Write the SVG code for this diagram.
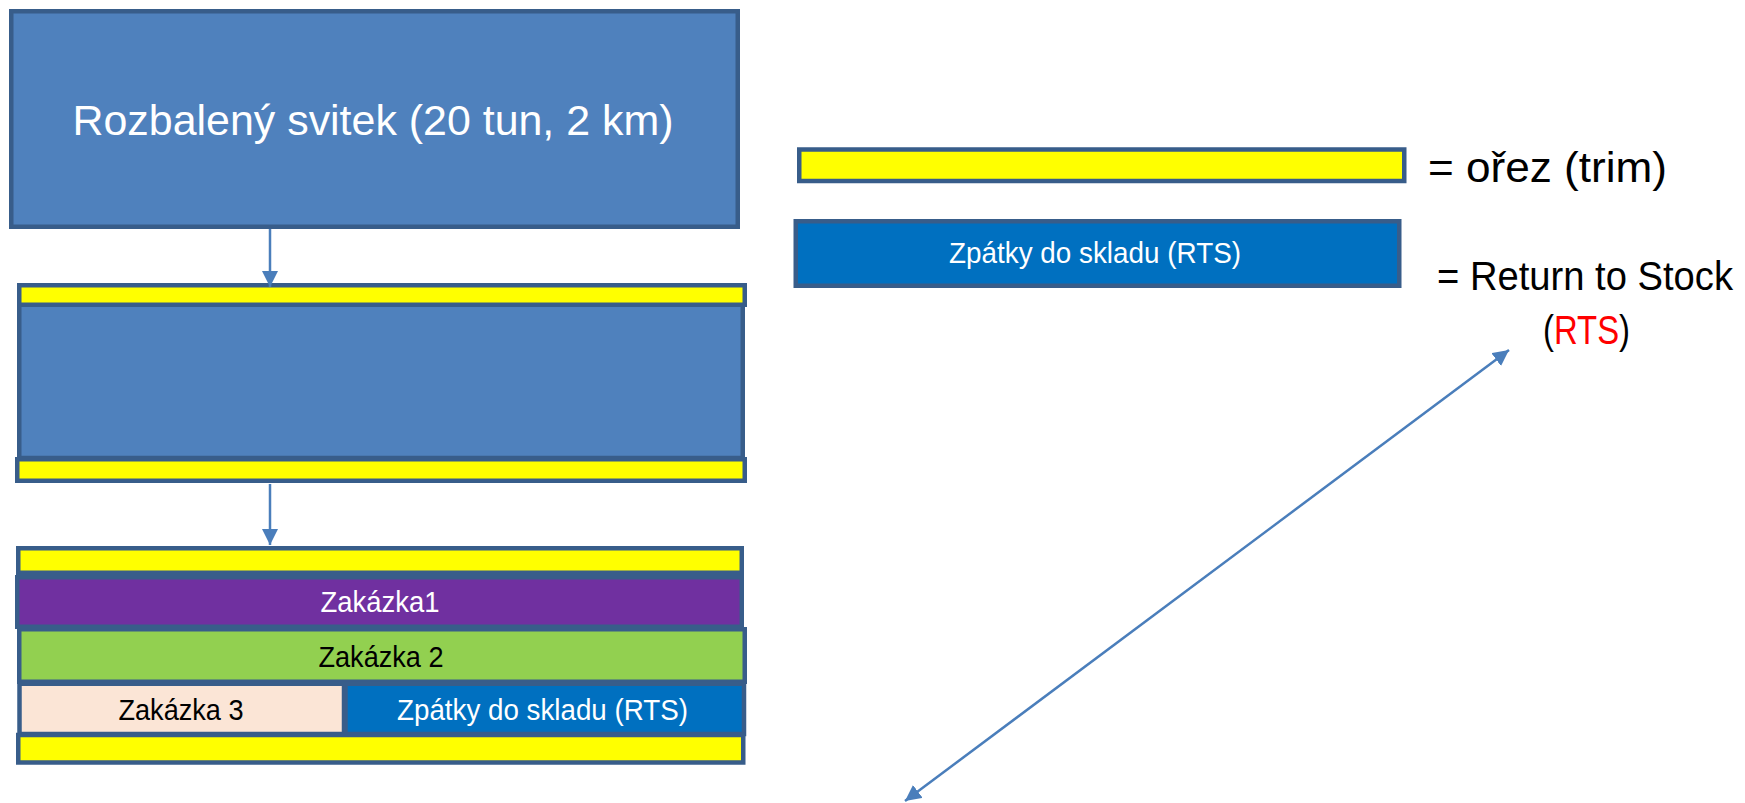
<svg xmlns="http://www.w3.org/2000/svg" width="1745" height="803" viewBox="0 0 1745 803">
<style>
  .box { stroke: #385D8A; stroke-width: 4.5; }
  .coil { fill: #4F81BD; }
  .trim { fill: #FFFF00; }
  .z1 { fill: #7030A0; }
  .z2 { fill: #92D050; }
  .z3 { fill: #FBE5D6; }
  .rts { fill: #0070C0; }
  .t { font-family: "Liberation Sans", Arial, sans-serif; }
  .big { font-size: 43px; }
  .leg { font-size: 40px; }
  .mid { font-size: 29px; }
  .w { fill: #FFFFFF; }
  .k { fill: #000000; }
  .conn { stroke: #4A7EBB; stroke-width: 2.5; fill: none; }
</style>
<defs>
  <marker id="ah" markerUnits="userSpaceOnUse" markerWidth="17" markerHeight="16" refX="16" refY="8" orient="auto-start-reverse">
    <path d="M0,0 L16,8 L0,16 Z" fill="#4A7EBB"/>
  </marker>
</defs>

<g id="coil">
  <rect class="box coil" x="11.25" y="11.25" width="726.5" height="215.5"/>
  <text class="t big w" x="373" y="135" text-anchor="middle" textLength="601" lengthAdjust="spacingAndGlyphs">Rozbalený svitek (20 tun, 2 km)</text>
</g>

<g id="trimmed">
  <rect class="box coil" x="19.25" y="303" width="723.5" height="155"/>
  <rect class="box trim" x="19.25" y="285.25" width="725.5" height="19.5"/>
  <rect class="box trim" x="17.25" y="459.25" width="727.5" height="21.5"/>
</g>

<g id="slit">
  <rect class="box trim" x="18.25" y="548.25" width="723.5" height="24.5"/>
  <g id="zakazka1">
    <rect class="box z1" x="17.25" y="577.25" width="724.5" height="49.5"/>
    <text class="t mid w" x="380" y="612" text-anchor="middle" textLength="119" lengthAdjust="spacingAndGlyphs">Zakázka1</text>
  </g>
  <g id="zakazka2">
    <rect class="box z2" x="19.25" y="629.25" width="725.5" height="52.5"/>
    <text class="t mid k" x="381" y="667" text-anchor="middle" textLength="125" lengthAdjust="spacingAndGlyphs">Zakázka 2</text>
  </g>
  <g id="zakazka3">
    <rect class="box z3" x="19.5" y="683.75" width="324.5" height="50.25"/>
    <text class="t mid k" x="181" y="720" text-anchor="middle" textLength="125" lengthAdjust="spacingAndGlyphs">Zakázka 3</text>
  </g>
  <g id="rts">
    <rect class="box rts" x="345.5" y="683.75" width="398.5" height="50.25"/>
    <text class="t mid w" x="542.5" y="720" text-anchor="middle" textLength="291" lengthAdjust="spacingAndGlyphs">Zpátky do skladu (RTS)</text>
  </g>
  <rect class="box trim" x="18.25" y="735" width="725" height="27.5"/>
</g>

<g id="legend-trim">
  <rect class="box trim" x="799.25" y="149.5" width="605" height="31.5"/>
  <text class="t big k" x="1428" y="182" textLength="239" lengthAdjust="spacingAndGlyphs">= ořez (trim)</text>
</g>

<g id="legend-rts">
  <rect class="box rts" x="795.75" y="221.25" width="603.5" height="64.5"/>
  <text class="t mid w" x="1095" y="263" text-anchor="middle" textLength="292" lengthAdjust="spacingAndGlyphs">Zpátky do skladu (RTS)</text>
  <text class="t leg k" x="1437" y="290" textLength="296" lengthAdjust="spacingAndGlyphs">= Return to Stock</text>
  <text class="t leg k" x="1543" y="344" textLength="87" lengthAdjust="spacingAndGlyphs">(<tspan fill="#FF0000">RTS</tspan>)</text>
</g>

<g id="connectors">
  <line class="conn" x1="270" y1="229" x2="270" y2="287" marker-end="url(#ah)"/>
  <line class="conn" x1="270" y1="484" x2="270" y2="545" marker-end="url(#ah)"/>
  <line class="conn" x1="905" y1="801" x2="1509" y2="350" marker-start="url(#ah)" marker-end="url(#ah)"/>
</g>
</svg>
